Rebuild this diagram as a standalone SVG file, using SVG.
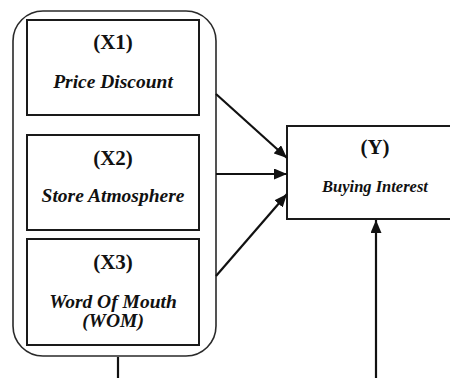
<svg xmlns="http://www.w3.org/2000/svg" width="450" height="378" viewBox="0 0 450 378">
  <style>
    .box { fill: #fff; stroke: #1a1a1a; stroke-width: 2; }
    .frame { fill: #fff; stroke: #2a2a2a; stroke-width: 1.6; }
    .code { font-family: "Liberation Serif", "Times New Roman", serif; font-weight: bold; font-size: 21px; fill: #111; text-anchor: middle; }
    .name { font-family: "Liberation Serif", "Times New Roman", serif; font-weight: bold; font-style: italic; font-size: 19.5px; fill: #111; text-anchor: middle; }
    .name-sm { font-size: 16.5px; }
    .link { stroke: #111; stroke-width: 2.2; fill: none; }
  </style>
  <defs>
    <marker id="arrow" viewBox="0 0 13 11" refX="13" refY="5.5" markerWidth="13" markerHeight="11" markerUnits="userSpaceOnUse" orient="auto">
      <path d="M0,0 L13,5.5 L0,11 Z" fill="#111"/>
    </marker>
  </defs>

  <!-- grouping frame around the independent variables -->
  <g id="independent-frame">
    <rect class="frame" x="13" y="11" width="203" height="345" rx="30" ry="30"/>
  </g>

  <g id="x1">
    <rect class="box" x="27" y="20" width="172" height="95"/>
    <text class="code" x="113" y="49">(X1)</text>
    <text class="name" x="113" y="88">Price Discount</text>
  </g>

  <g id="x2">
    <rect class="box" x="27" y="135" width="172" height="95"/>
    <text class="code" x="113" y="165">(X2)</text>
    <text class="name" x="113" y="202">Store Atmosphere</text>
  </g>

  <g id="x3">
    <rect class="box" x="27" y="239" width="172" height="106"/>
    <text class="code" x="113" y="269">(X3)</text>
    <text class="name" x="113" y="308">Word Of Mouth</text>
    <text class="name" x="113" y="327">(WOM)</text>
  </g>

  <g id="y">
    <rect class="box" x="287" y="126" width="170" height="93"/>
    <text class="code" x="375" y="154">(Y)</text>
    <text class="name name-sm" x="375" y="192">Buying Interest</text>
  </g>

  <g id="connectors">
    <line class="link" x1="216" y1="94" x2="287" y2="158" marker-end="url(#arrow)"/>
    <line class="link" x1="216" y1="174" x2="287" y2="174" marker-end="url(#arrow)"/>
    <line class="link" x1="216" y1="276" x2="287" y2="194" marker-end="url(#arrow)"/>
    <line class="link" x1="376" y1="378" x2="376" y2="220" marker-end="url(#arrow)"/>
    <line class="link" x1="118" y1="357" x2="118" y2="378"/>
  </g>
</svg>
